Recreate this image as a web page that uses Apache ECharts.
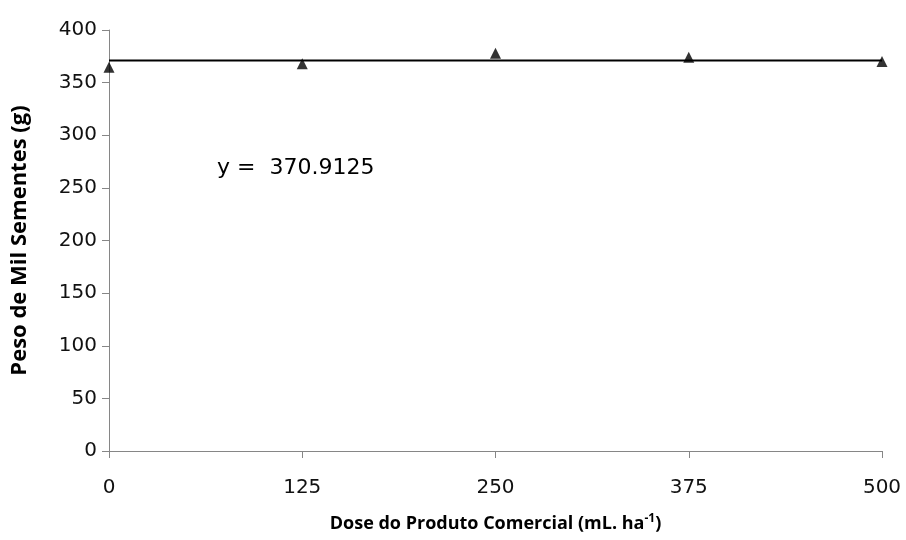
<!DOCTYPE html>
<html>
<head>
<meta charset="utf-8">
<script src="https://cdn.jsdelivr.net/npm/echarts@6/dist/echarts.min.js"></script>
<style>html,body{margin:0;padding:0;background:#fff}#c{width:906px;height:540px}</style>
</head>
<body>
<div id="c"></div>
<script>
var doses = [0, 125, 250, 375, 500];
var pesoValues = [364.5, 368, 378, 374, 370];
var fitValue = 370.9125;
var xTicks = [0, 125, 250, 375, 500];
var yTicks = [0, 50, 100, 150, 200, 250, 300, 350, 400];

var chart = echarts.init(document.getElementById('c'));
var numFont = 'DejaVu Sans, sans-serif';
var titleFont = 'Open Sans, sans-serif';
chart.setOption({
  animation: false,
  backgroundColor: '#fff',
  grid: {left: 109, right: 24, top: 30, bottom: 89},
  xAxis: {
    type: 'value', min: xTicks[0], max: xTicks[xTicks.length-1], interval: 125,
    axisLine: {show: true, lineStyle: {color: '#868686', width: 1}},
    axisTick: {show: true, length: 7, lineStyle: {color: '#868686'}},
    splitLine: {show: false},
    axisLabel: {color: '#111', fontSize: 20, fontFamily: numFont, margin: 27},
    name: '{t|Dose do Produto Comercial (mL. ha}{s|-1}{t|)}',
    nameLocation: 'middle', nameGap: 62,
    nameTextStyle: {rich: {
      t: {fontSize: 18, fontWeight: 'bold', fontFamily: titleFont, color: '#000'},
      s: {fontSize: 12, fontWeight: 'bold', fontFamily: titleFont, color: '#000', verticalAlign: 'top', padding: [0,0,9,0]}
    }}
  },
  yAxis: {
    type: 'value', min: 0, max: 400, interval: 50,
    axisLine: {show: true, lineStyle: {color: '#868686', width: 1}},
    axisTick: {show: true, length: 7, lineStyle: {color: '#868686'}},
    splitLine: {show: false},
    axisLabel: {color: '#111', fontSize: 20, fontFamily: numFont, margin: 12},
    name: 'Peso de Mil Sementes (g)',
    nameLocation: 'middle', nameGap: 78,
    nameTextStyle: {fontSize: 22, fontWeight: 'bold', fontFamily: titleFont, color: '#000'}
  },
  graphic: [{
    type: 'text', left: 217, top: 157,
    style: {text: 'y =  ' + fitValue, fontSize: 22, fontFamily: numFont, fill: '#000'}
  }],
  series: [{
    type: 'line',
    data: [[xTicks[0], fitValue], [xTicks[xTicks.length-1], fitValue]],
    symbol: 'none',
    lineStyle: {color: '#000', width: 2}
  }, {
    type: 'scatter',
    data: doses.map(function(d, i){ return [d, pesoValues[i]]; }),
    symbol: 'triangle', symbolSize: [11, 11],
    itemStyle: {color: '#000'}
  }]
});
</script>
</body>
</html>
